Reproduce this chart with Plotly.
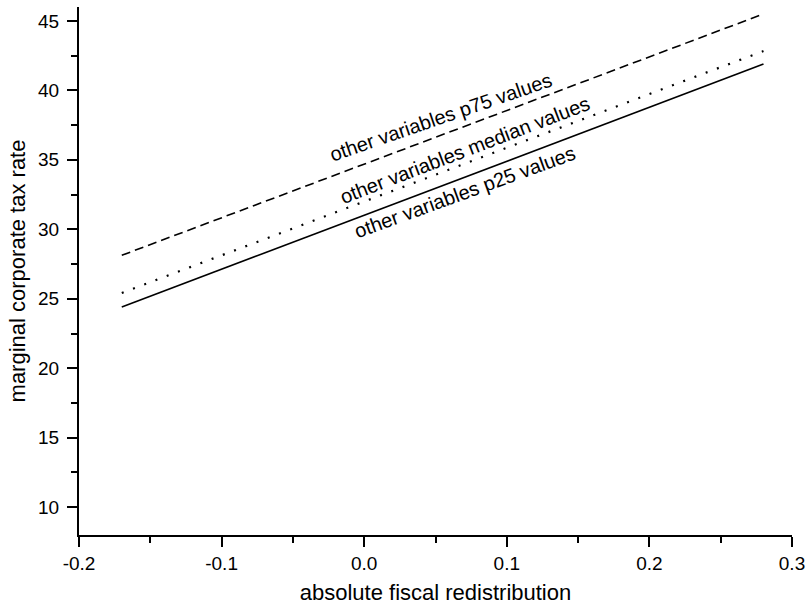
import plotly.graph_objects as go

# Data
x_vals = [-0.17, 0.28]
p25_vals = [24.41, 41.89]
median_vals = [25.42, 42.83]
p75_vals = [28.13, 45.5]

label_texts = ["other variables p75 values", "other variables median values", "other variables p25 values"]
label_x = [0.0538, 0.0706, 0.0706]
label_y = [38.09, 35.72, 32.69]
label_angles = [-19, -21, -20]

x_tickvals = [-0.2, -0.1, 0.0, 0.1, 0.2, 0.3]
x_ticktext = ["-0.2", "-0.1", "0.0", "0.1", "0.2", "0.3"]
y_tickvals = [10, 15, 20, 25, 30, 35, 40, 45]

FONT = "Arial, Liberation Sans, sans-serif"

fig = go.Figure()
fig.add_trace(go.Scatter(x=x_vals, y=p75_vals, mode="lines",
                         line=dict(color="black", width=1.6, dash="9px,5px"), showlegend=False))
fig.add_trace(go.Scatter(x=x_vals, y=median_vals, mode="lines",
                         line=dict(color="black", width=2.2, dash="2px,10px"), showlegend=False))
fig.add_trace(go.Scatter(x=x_vals, y=p25_vals, mode="lines",
                         line=dict(color="black", width=1.6), showlegend=False))

for t, xx, yy, ang in zip(label_texts, label_x, label_y, label_angles):
    fig.add_annotation(x=xx, y=yy, text=t, showarrow=False, textangle=ang,
                       font=dict(family=FONT, size=20, color="black"),
                       xanchor="center", yanchor="middle")

fig.update_layout(
    width=812, height=610,
    margin=dict(l=79, r=18, t=7, b=75),
    paper_bgcolor="white", plot_bgcolor="white",
    font=dict(family=FONT, color="black"),
)
fig.update_xaxes(
    range=[-0.2, 0.3], showgrid=False, zeroline=False,
    showline=True, linecolor="black", linewidth=2,
    tickmode="array", tickvals=x_tickvals, ticktext=x_ticktext,
    ticks="outside", ticklen=10, tickwidth=2, tickcolor="black",
    tickfont=dict(size=19, family=FONT),
    minor=dict(dtick=0.05, ticks="outside", ticklen=6, tickwidth=2, tickcolor="black", showgrid=False),
    title=dict(text="absolute fiscal redistribution", font=dict(size=22, family=FONT), standoff=12),
)
fig.update_yaxes(
    range=[8, 46], showgrid=False, zeroline=False,
    showline=True, linecolor="black", linewidth=2,
    tickmode="array", tickvals=y_tickvals,
    ticks="outside", ticklen=10, tickwidth=2, tickcolor="black",
    tickfont=dict(size=19, family=FONT), ticklabelstandoff=4,
    minor=dict(dtick=2.5, tick0=7.5, ticks="outside", ticklen=6, tickwidth=2, tickcolor="black", showgrid=False),
    title=dict(text="marginal corporate tax rate", font=dict(size=22, family=FONT), standoff=6),
)

fig.write_html("out.html")
